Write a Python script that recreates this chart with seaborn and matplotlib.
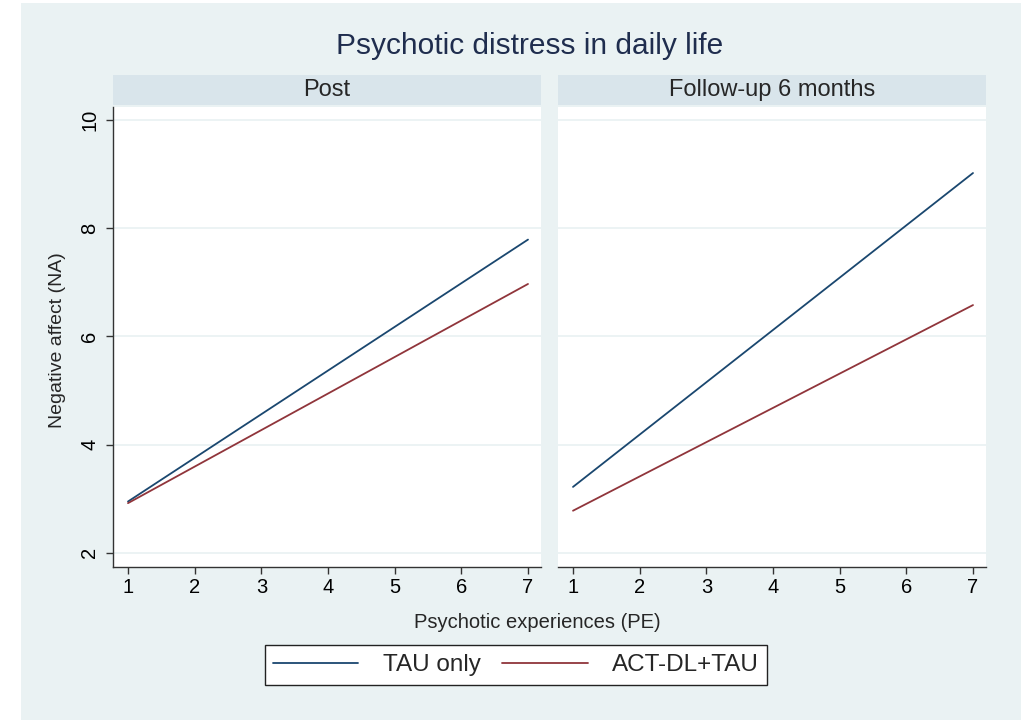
import pandas as pd
import matplotlib.pyplot as plt
import seaborn as sns
from matplotlib.patches import Rectangle

# dados (valores previstos em PE = 1 e PE = 7)
pe = [1, 7]
post_tau = [2.95, 7.79]
post_act = [2.92, 6.97]
fu_tau = [3.22, 9.02]
fu_act = [2.78, 6.58]

paineis = ['Post', 'Follow-up 6 months']
grupos = ['TAU only', 'ACT-DL+TAU']
cores = {'TAU only': '#1a476f', 'ACT-DL+TAU': '#90353b'}

rows = []
for painel, tau, act in [('Post', post_tau, post_act), ('Follow-up 6 months', fu_tau, fu_act)]:
    for x, y in zip(pe, tau):
        rows.append({'painel': painel, 'grupo': 'TAU only', 'PE': x, 'NA': y})
    for x, y in zip(pe, act):
        rows.append({'painel': painel, 'grupo': 'ACT-DL+TAU', 'PE': x, 'NA': y})
df = pd.DataFrame(rows)

sns.set_theme(style='white')
plt.rcParams['font.family'] = ['Liberation Sans', 'DejaVu Sans']

bg = '#eaf2f3'
strip = '#d9e5eb'

g = sns.relplot(data=df, x='PE', y='NA', hue='grupo', col='painel', kind='line',
                col_order=paineis, hue_order=grupos, palette=cores, linewidth=1.3,
                legend=False, facet_kws={'sharey': True, 'sharex': True})
fig = g.figure
fig.set_size_inches(10.3, 7.2)
fig.set_dpi(100)
fig.patch.set_facecolor('white')
fig.add_artist(Rectangle((21 / 1030, 0), 1000 / 1030, 717 / 720, transform=fig.transFigure,
                         facecolor=bg, edgecolor='none', zorder=-10))

W, H = 1030, 720
posicoes = [(113, 541), (558, 986)]
top_px, bot_px = 107, 567
for ax, (x0, x1), titulo in zip(g.axes.flat, posicoes, paineis):
    ax.set_position([x0 / W, 1 - bot_px / H, (x1 - x0) / W, (bot_px - top_px) / H])
    ax.set_facecolor('white')
    ax.set_xlim(0.775, 7.195)
    ax.set_ylim(1.74, 10.24)
    ax.set_yticks([2, 4, 6, 8, 10])
    ax.set_xticks(range(1, 8))
    ax.grid(axis='y', color=bg, linewidth=1.3)
    ax.grid(axis='x', visible=False)
    ax.set_axisbelow(True)
    for s in ['top', 'right']:
        ax.spines[s].set_visible(False)
    ax.spines['bottom'].set_color('#333333')
    ax.spines['bottom'].set_linewidth(1.0)
    ax.spines['left'].set_color('#333333')
    ax.spines['left'].set_linewidth(1.0)
    ax.tick_params(axis='both', direction='out', length=5, width=1, color='#333333',
                   labelsize=14.5, labelcolor='black', pad=3, bottom=True, left=True)
    ax.set_title('')
    ax.set_xlabel('')
    ax.set_ylabel('')
    # faixa do título do painel
    fig.add_artist(Rectangle((x0 / W, 1 - 105 / H), (x1 - x0) / W, 30 / H,
                             transform=fig.transFigure, facecolor=strip, edgecolor='none'))
    fig.text((x0 + x1) / 2 / W, 1 - 90 / H, titulo, ha='center', va='center', fontsize=17)

ax0, ax1 = g.axes.flat
for lab in ax0.get_yticklabels():
    lab.set_rotation(90)
    lab.set_va('center')
ax0.tick_params(axis='y', pad=5)
ax1.spines['left'].set_visible(False)
ax1.tick_params(axis='y', left=False, labelleft=False)

fig.text(530 / W, 1 - 46 / H, 'Psychotic distress in daily life', ha='center', va='center',
         fontsize=21.5, color='#1f2d4e')
fig.text(537 / W, 1 - 622 / H, 'Psychotic experiences (PE)', ha='center', va='center',
         fontsize=14.5)
fig.text(57 / W, 1 - 340 / H, 'Negative affect (NA)', ha='center', va='center', rotation=90,
         fontsize=14)

handles = [plt.Line2D([], [], color=cores[gr], linewidth=1.3) for gr in grupos]
leg = fig.legend(handles, grupos, loc='center', bbox_to_anchor=(516 / W, 1 - 665 / H), ncol=2,
                 fontsize=17.5, frameon=True, fancybox=False, framealpha=1, edgecolor='#222222',
                 handlelength=3.5, handletextpad=1.0, columnspacing=0.9, borderpad=0.35,
                 borderaxespad=0)
leg.get_frame().set_linewidth(1.0)

fig.savefig('out.png', dpi=100, facecolor=fig.get_facecolor())
